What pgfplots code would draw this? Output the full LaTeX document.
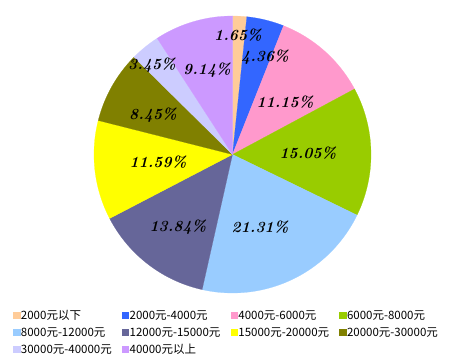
\documentclass[border=0pt]{standalone}
\usepackage{pgfplots}
\pgfplotsset{compat=1.18}
\usepackage{fontspec}
\newfontfamily\cjk{Noto Sans CJK SC}
\definecolor{c1}{RGB}{255,204,153}
\definecolor{c2}{RGB}{51,102,255}
\definecolor{c3}{RGB}{255,153,204}
\definecolor{c4}{RGB}{153,204,0}
\definecolor{c5}{RGB}{153,204,255}
\definecolor{c6}{RGB}{102,102,153}
\definecolor{c7}{RGB}{255,255,0}
\definecolor{c8}{RGB}{128,128,0}
\definecolor{c9}{RGB}{204,204,255}
\definecolor{c10}{RGB}{204,153,255}
\newcommand{\lb}[1]{\makebox[100pt][l]{#1}}
\begin{document}
\begin{tikzpicture}[x=1pt,y=1pt]
\useasboundingbox (0,0) rectangle (450,362);
\begin{axis}[
  at={(232.5pt,207.5pt)}, anchor=center,
  width=277pt, height=277pt, scale only axis,
  xmin=-1, xmax=1, ymin=-1, ymax=1,
  hide axis, clip=false,
  legend columns=4,
  legend style={at={(-0.303,-0.05)}, anchor=north west, draw=none, fill=none,
    font=\cjk\fontsize{11.5}{12}\selectfont,
    nodes={inner sep=1pt, anchor=west},
    column sep=0pt, row sep=4.5pt},
  legend cell align=left,
  legend image code/.code={\fill[#1] (0pt,-3pt) rectangle (6.5pt,3.5pt);},
]
\addplot[draw=c1, fill=c1, line width=0.2pt, variable=\t, samples=20, domain={90-3.6*1.65}:{90-3.6*0}] ({cos(\t)},{sin(\t)}) -- (0,0) -- cycle;
\addplot[draw=c2, fill=c2, line width=0.2pt, variable=\t, samples=30, domain={90-3.6*6.01}:{90-3.6*1.65}] ({cos(\t)},{sin(\t)}) -- (0,0) -- cycle;
\addplot[draw=c3, fill=c3, line width=0.2pt, variable=\t, samples=60, domain={90-3.6*17.16}:{90-3.6*6.01}] ({cos(\t)},{sin(\t)}) -- (0,0) -- cycle;
\addplot[draw=c4, fill=c4, line width=0.2pt, variable=\t, samples=60, domain={90-3.6*32.21}:{90-3.6*17.16}] ({cos(\t)},{sin(\t)}) -- (0,0) -- cycle;
\addplot[draw=c5, fill=c5, line width=0.2pt, variable=\t, samples=80, domain={90-3.6*53.52}:{90-3.6*32.21}] ({cos(\t)},{sin(\t)}) -- (0,0) -- cycle;
\addplot[draw=c6, fill=c6, line width=0.2pt, variable=\t, samples=60, domain={90-3.6*67.36}:{90-3.6*53.52}] ({cos(\t)},{sin(\t)}) -- (0,0) -- cycle;
\addplot[draw=c7, fill=c7, line width=0.2pt, variable=\t, samples=60, domain={90-3.6*78.95}:{90-3.6*67.36}] ({cos(\t)},{sin(\t)}) -- (0,0) -- cycle;
\addplot[draw=c8, fill=c8, line width=0.2pt, variable=\t, samples=50, domain={90-3.6*87.40}:{90-3.6*78.95}] ({cos(\t)},{sin(\t)}) -- (0,0) -- cycle;
\addplot[draw=c9, fill=c9, line width=0.2pt, variable=\t, samples=30, domain={90-3.6*90.85}:{90-3.6*87.40}] ({cos(\t)},{sin(\t)}) -- (0,0) -- cycle;
\addplot[draw=c10, fill=c10, line width=0.2pt, variable=\t, samples=50, domain={90-3.6*100}:{90-3.6*90.85}] ({cos(\t)},{sin(\t)}) -- (0,0) -- cycle;
\legend{\lb{2000元以下},\lb{2000元-4000元},\lb{4000元-6000元},\lb{6000元-8000元},\lb{8000元-12000元},\lb{12000元-15000元},\lb{15000元-20000元},\lb{20000元-30000元},\lb{30000元-40000元},\lb{40000元以上}}
\addplot[forget plot, draw=none, mark=none, nodes near coords, point meta=explicit symbolic,
  every node near coord/.style={anchor=center, font=\fontsize{15.5}{16}\selectfont\bfseries\itshape, text=black}]
  coordinates {
  (0.040,0.863)[1.65\%]
  (0.235,0.704)[4.36\%]
  (0.379,0.379)[11.15\%]
  (0.545,0.011)[15.05\%]
  (0.199,-0.523)[21.31\%]
  (-0.394,-0.523)[13.84\%]
  (-0.538,-0.054)[11.59\%]
  (-0.574,0.285)[8.45\%]
  (-0.581,0.646)[3.45\%]
  (-0.184,0.610)[9.14\%]
  };
\end{axis}
\end{tikzpicture}
\end{document}
